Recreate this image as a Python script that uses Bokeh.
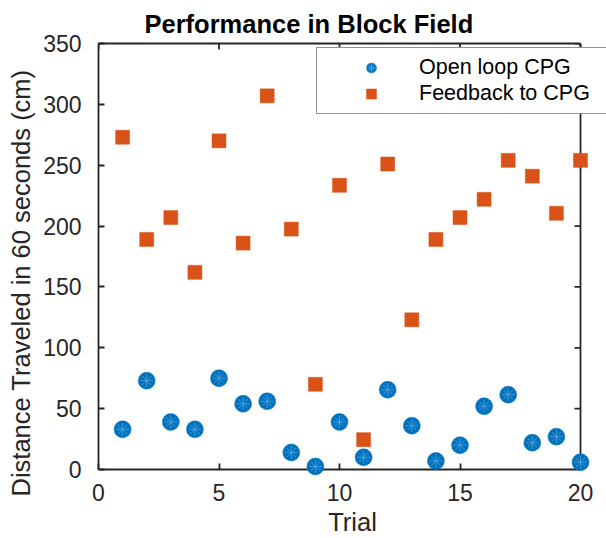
import math
from bokeh.plotting import figure
from bokeh.models import ColumnDataSource, Legend, LegendItem, FixedTicker, Range1d, Title
from bokeh.embed import file_html
from bokeh.resources import INLINE

trials = list(range(1, 21))
open_loop = [33, 73, 39, 33, 75, 54, 56, 14, 2.5, 39, 10, 65.5, 36, 7, 20, 52, 61.5, 22, 27, 6]
feedback = [273, 189, 207, 162, 270, 186, 307, 197.5, 70, 233.5, 24.5, 251, 123, 189, 207, 222, 254, 241, 210.5, 254]
x_ticks = [0, 5, 10, 15, 20]
y_ticks = [0, 50, 100, 150, 200, 250, 300, 350]
x_min, x_max = 0, 20
y_min, y_max = 0, 350

FONT = "Liberation Sans"
AX = "#262626"
BLUE = "#0072BD"
ORANGE = "#D95319"
LW = 1.8

# layout: the axes box spans 482 px of a 508 px wide frame; the frame runs to the
# right edge so that the legend may overhang the box as in the reference
FRAME_W, BOX_W = 508, 482
x_end = x_min + (x_max - x_min) * FRAME_W / BOX_W

src_open = ColumnDataSource(dict(x=trials, y=open_loop))
src_fb = ColumnDataSource(dict(x=trials, y=feedback))

p = figure(width=606, height=538, output_backend="svg", toolbar_location=None,
           x_range=Range1d(x_min, x_end), y_range=Range1d(y_min, y_max),
           min_border_left=98, min_border_right=0, min_border_top=43, min_border_bottom=68)
p.title.text = "Performance in Block Field"
p.title.text_font = FONT
p.title.text_font_size = "25.5px"
p.title.text_font_style = "bold"
p.title.align = "left"
p.title.offset = 46
p.title.standoff = 10
p.title.vertical_align = "middle"
p.title.text_color = "black"
p.grid.visible = False
p.outline_line_color = None

def style_axis(ax):
    ax.axis_line_color = AX
    ax.axis_line_width = LW
    ax.major_tick_line_color = AX
    ax.major_tick_line_width = LW
    ax.major_tick_in = 6
    ax.major_tick_out = 0
    ax.minor_tick_line_color = None
    ax.major_label_text_font = FONT
    ax.major_label_text_font_size = "23px"
    ax.major_label_text_color = AX
    ax.axis_label_text_font = FONT
    ax.axis_label_text_font_size = "25.5px"
    ax.axis_label_text_font_style = "normal"
    ax.axis_label_text_color = AX

p.xaxis.ticker = FixedTicker(ticks=x_ticks)
p.yaxis.ticker = FixedTicker(ticks=y_ticks)
p.xaxis.bounds = (x_min, x_max)
style_axis(p.xaxis[0])
style_axis(p.yaxis[0])
p.xaxis.major_label_standoff = 14
p.yaxis.major_label_standoff = 17
p.xaxis.axis_label = "Trial"
p.xaxis.axis_label_text_line_height = 1.0
p.xaxis.axis_label_standoff = 4

# y-axis title (a side title so it can sit lower, as in the reference)
ytitle = Title(text="Distance Traveled in 60 seconds (cm)", align="left", offset=-27,
               standoff=10, vertical_align="middle", text_font=FONT, text_font_size="25.5px",
               text_font_style="normal", text_color=AX)
p.add_layout(ytitle, "left")

# top and right edges of the axes box, with inward ticks
p.line(x=[x_min, x_max], y=[y_max, y_max], line_color=AX, line_width=LW, level="overlay")
p.line(x=[x_max, x_max], y=[y_min, y_max], line_color=AX, line_width=LW)
p.ray(x=x_ticks, y=[y_max] * len(x_ticks), length=6, length_units="screen",
      angle=-math.pi / 2, line_color=AX, line_width=LW)
p.ray(x=[x_max] * len(y_ticks), y=y_ticks, length=6, length_units="screen",
      angle=math.pi, line_color=AX, line_width=LW)

r1 = p.scatter("x", "y", source=src_open, marker="circle", size=17,
               fill_color=BLUE, line_color=BLUE, line_width=0.5, level="overlay")
r1b = p.scatter("x", "y", source=src_open, marker="asterisk", size=13,
                line_color="#4FA3DD", line_width=0.8, level="overlay")
r2 = p.scatter("x", "y", source=src_fb, marker="square", size=14,
               fill_color=ORANGE, line_color=ORANGE, line_width=0.5, level="overlay")

legend = Legend(items=[LegendItem(label="Open loop CPG", renderers=[r1, r1b]),
                       LegendItem(label="Feedback to CPG", renderers=[r2])],
                location=(218, 355))
legend.label_text_font = FONT
legend.label_text_font_size = "21.5px"
legend.label_text_color = "black"
legend.border_line_color = AX
legend.border_line_width = LW
legend.background_fill_color = "white"
legend.background_fill_alpha = 1
legend.padding = 7
legend.margin = 0
legend.glyph_width = 94
legend.glyph_height = 25
legend.label_height = 25
legend.label_width = 200
legend.label_standoff = 1
legend.spacing = 1
p.add_layout(legend, "center")

open("out.html", "w").write(file_html(p, INLINE))
